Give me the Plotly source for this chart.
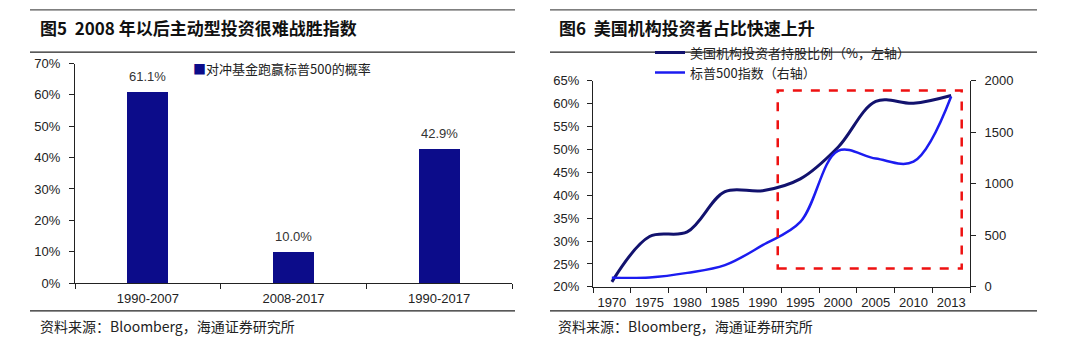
import plotly.graph_objects as go

# ---------------- data ----------------
periods = ["1990-2007", "2008-2017", "1990-2017"]
beat_prob = [61.1, 10.0, 42.9]

years = ["1970", "1975", "1980", "1985", "1990", "1995", "2000", "2005", "2010", "2013"]
inst_share = [21.1, 31.0, 32.0, 40.8, 41.0, 43.6, 50.5, 60.5, 60.1, 61.8]
sp500 = [90, 92, 136, 211, 405, 630, 1320, 1245, 1215, 1848]

left_ticks = [0, 10, 20, 30, 40, 50, 60, 70]
right_ticks_l = [20, 25, 30, 35, 40, 45, 50, 55, 60, 65]
right_ticks_r = [0, 500, 1000, 1500, 2000]

# highlight box (category index / left-axis %)
box_x = [4.4, 9.28]
box_y = [24.0, 62.9]

W, H = 1080, 362
def px(x): return x / W
def py(y): return 1 - y / H

CJK = "Noto Sans CJK SC"
LAT = "Liberation Sans, Arial"
NAVY = "#0c0c8a"
DARK = "#12126e"
BLUE = "#1c1cf0"

fig = go.Figure()

fig.add_trace(go.Bar(
    x=periods, y=beat_prob, marker=dict(color=NAVY, line=dict(width=0)),
    width=0.28, name="对冲基金跑赢标普500的概率", showlegend=False,
    xaxis="x", yaxis="y",
))
for p, v in zip(periods, beat_prob):
    fig.add_annotation(x=p, y=v, xref="x", yref="y", yshift=15, showarrow=False,
                       text=f"{v:.1f}%", font=dict(family=LAT, size=13, color="#333"))

fig.add_trace(go.Scatter(
    x=years, y=inst_share, mode="lines", name="美国机构投资者持股比例（%，左轴）",
    line=dict(color=DARK, width=3, shape="spline", smoothing=1.0),
    xaxis="x2", yaxis="y2", legend="legend2",
))
fig.add_trace(go.Scatter(
    x=years, y=sp500, mode="lines", name="标普500指数（右轴）",
    line=dict(color=BLUE, width=2.5, shape="spline", smoothing=1.0),
    xaxis="x2", yaxis="y3", legend="legend2",
))

tickfont = dict(family=LAT, size=13, color="#222")
axline = dict(showline=True, linecolor="#222", linewidth=1, showgrid=False, zeroline=False,
              ticks="outside", ticklen=5, tickcolor="#222", tickfont=tickfont, tickangle=0)

fig.update_layout(
    width=W, height=H, autosize=False,
    margin=dict(l=0, r=0, t=0, b=0),
    paper_bgcolor="white", plot_bgcolor="white",
    bargap=0,
    xaxis=dict(domain=[px(75), px(512)], anchor="y", type="category",
               tickson="boundaries", ticklabelstandoff=3, **axline),
    yaxis=dict(domain=[py(288), py(59)], anchor="x", range=[0, 70], ticklabelstandoff=6,
               tickvals=left_ticks, ticktext=[f"{v}%" for v in left_ticks], **axline),
    xaxis2=dict(domain=[px(593), px(970)], anchor="y2", type="category",
                tickson="boundaries", range=[-0.5, 9.5], ticklabelstandoff=3, **axline),
    yaxis2=dict(domain=[py(292), py(77)], anchor="x2", range=[20, 65], ticklabelstandoff=5,
                tickvals=right_ticks_l, ticktext=[f"{v}%" for v in right_ticks_l], **axline),
    yaxis3=dict(overlaying="y2", side="right", anchor="x2", range=[0, 2000], ticklabelstandoff=6,
                tickvals=right_ticks_r, **axline),
    legend2=dict(x=px(650), y=py(58), xanchor="left", yanchor="middle",
                 bgcolor="rgba(0,0,0,0)", font=dict(family=CJK, size=13, color="#222"),
                 itemwidth=30, tracegroupgap=2),
    showlegend=True,
)

# bar legend as a text key
fig.add_annotation(xref="paper", yref="paper", x=px(191), y=py(64), xanchor="left", yanchor="middle",
                   showarrow=False,
                   text=f"<span style='color:{NAVY}'>■</span>对冲基金跑赢标普500的概率",
                   font=dict(family=CJK, size=13, color="#222"))

# rules
for x0, x1 in [(30, 515), (550, 1037)]:
    fig.add_shape(type="line", xref="paper", yref="paper", x0=px(x0), x1=px(x1),
                  y0=py(3), y1=py(3), line=dict(color="#555", width=1.2))
    fig.add_shape(type="line", xref="paper", yref="paper", x0=px(x0), x1=px(x1),
                  y0=py(47), y1=py(47), line=dict(color="#222", width=1.2))
    fig.add_shape(type="line", xref="paper", yref="paper", x0=px(x0), x1=px(x1),
                  y0=py(317), y1=py(317), line=dict(color="#222", width=1.2))

# titles
fig.add_annotation(xref="paper", yref="paper", x=px(38), y=py(21), xanchor="left", yanchor="middle",
                   showarrow=False, text="<b>图5  2008 年以后主动型投资很难战胜指数</b>",
                   font=dict(family=CJK, size=17, color="#111"))
fig.add_annotation(xref="paper", yref="paper", x=px(557), y=py(21), xanchor="left", yanchor="middle",
                   showarrow=False, text="<b>图6  美国机构投资者占比快速上升</b>",
                   font=dict(family=CJK, size=17, color="#111"))
# sources
for x0 in [38, 556]:
    fig.add_annotation(xref="paper", yref="paper", x=px(x0), y=py(333), xanchor="left", yanchor="middle",
                       showarrow=False, text="资料来源：Bloomberg，海通证券研究所",
                       font=dict(family=CJK, size=14, color="#222"))

# red dashed highlight box
fig.add_shape(type="rect", xref="x2", yref="y2", x0=box_x[0], x1=box_x[1], y0=box_y[0], y1=box_y[1],
              line=dict(color="#ee1111", width=2.5, dash="dash"))

fig.write_html("out.html", config={"displayModeBar": False},
               post_script="document.body.style.margin='0';document.body.style.overflow='hidden';")
